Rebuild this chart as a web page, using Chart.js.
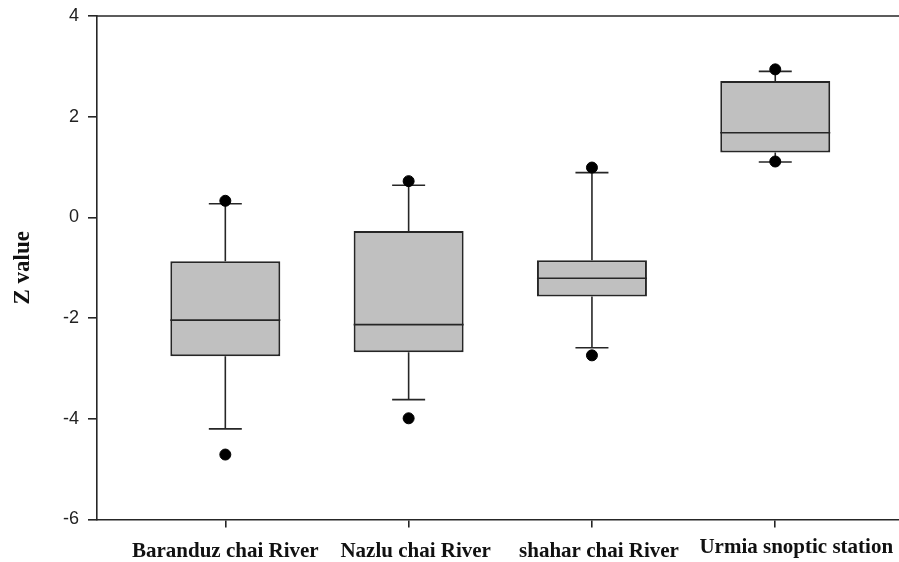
<!DOCTYPE html>
<html>
<head>
<meta charset="utf-8">
<script src="https://cdn.jsdelivr.net/npm/chart.js@4.4.1/dist/chart.umd.min.js"></script>
<style>
  html, body { margin: 0; padding: 0; background: #ffffff; }
  #wrap { width: 899px; height: 562px; position: relative; }
</style>
</head>
<body>
<div id="wrap"><canvas id="c" width="899" height="562"></canvas></div>
<script>
// ---- data ----
const categories = ['Baranduz chai River', 'Nazlu chai River', 'shahar chai River', 'Urmia snoptic station'];
const q1 = [-2.76, -2.68, -1.57, 1.29];
const median = [-2.04, -2.13, -1.21, 1.68];
const q3 = [-0.87, -0.27, -0.85, 2.71];
const whiskerLow = [-4.20, -3.62, -2.59, 1.10];
const whiskerHigh = [0.27, 0.64, 0.89, 2.90];
const outlierLow = [-4.71, -3.99, -2.74, 1.11];
const outlierHigh = [0.33, 0.72, 0.99, 2.94];
const yTicks = [-6, -4, -2, 0, 2, 4];

// ---- style constants ----
const BOX_HALF = 0.3;   // half box width in category units
const CAP_HALF = 0.09;  // half whisker-cap width in category units
const INK = '#262626';
// per-label nudges (px) of the category labels, as placed in the original figure
const LABEL_DX = [0, 7, 7, 21];
const LABEL_BASELINE = [37, 37, 37, 33];
const LABEL_FONT = "bold 21px 'Liberation Serif', 'Times New Roman', serif";

const pos = categories.map((_, i) => i + 1);

const boxes = pos.map((x, i) => ({ x: x, y: [q1[i], q3[i]] }));

const whiskers = [];
pos.forEach((x, i) => {
  whiskers.push({ x: x, y: q3[i] }, { x: x, y: whiskerHigh[i] }, { x: x, y: null });
  whiskers.push({ x: x, y: q1[i] }, { x: x, y: whiskerLow[i] }, { x: x, y: null });
});

const caps = [];
pos.forEach((x, i) => {
  caps.push({ x: x - CAP_HALF, y: whiskerHigh[i] }, { x: x + CAP_HALF, y: whiskerHigh[i] }, { x: x, y: null });
  caps.push({ x: x - CAP_HALF, y: whiskerLow[i] }, { x: x + CAP_HALF, y: whiskerLow[i] }, { x: x, y: null });
});

const medians = [];
pos.forEach((x, i) => {
  medians.push({ x: x - BOX_HALF, y: median[i] }, { x: x + BOX_HALF, y: median[i] }, { x: x, y: null });
});

const outliers = [];
pos.forEach((x, i) => {
  outliers.push({ x: x, y: outlierHigh[i] }, { x: x, y: outlierLow[i] });
});

const frameAndLabels = {
  id: 'frameAndLabels',
  afterDraw(chart) {
    const a = chart.chartArea, ctx = chart.ctx;
    const xs = chart.scales.x;
    ctx.save();
    ctx.strokeStyle = INK;
    ctx.lineWidth = 1.6;
    ctx.beginPath();
    ctx.moveTo(a.left, a.top);
    ctx.lineTo(chart.width, a.top);
    ctx.stroke();
    ctx.fillStyle = '#111';
    ctx.font = LABEL_FONT;
    ctx.textAlign = 'center';
    ctx.textBaseline = 'alphabetic';
    categories.forEach((name, i) => {
      ctx.fillText(name, xs.getPixelForValue(pos[i]) + LABEL_DX[i], a.bottom + LABEL_BASELINE[i]);
    });
    ctx.restore();
  }
};

new Chart(document.getElementById('c'), {
  type: 'bar',
  data: {
    datasets: [
      {
        type: 'bar', data: boxes, order: 3,
        backgroundColor: '#c0c0c0', borderColor: INK, borderWidth: 2, borderSkipped: false,
        categoryPercentage: 0.6, barPercentage: 1.0
      },
      {
        type: 'line', data: whiskers, order: 4, spanGaps: false,
        borderColor: INK, borderWidth: 1.6, pointRadius: 0, fill: false, tension: 0
      },
      {
        type: 'line', data: caps, order: 2, spanGaps: false,
        borderColor: INK, borderWidth: 1.6, pointRadius: 0, fill: false, tension: 0
      },
      {
        type: 'line', data: medians, order: 1, spanGaps: false,
        borderColor: INK, borderWidth: 1.6, pointRadius: 0, fill: false, tension: 0
      },
      {
        type: 'scatter', data: outliers, order: 0, clip: false,
        pointRadius: 5.5, pointBorderWidth: 1, pointBackgroundColor: '#000', pointBorderColor: '#000'
      }
    ]
  },
  options: {
    responsive: false,
    animation: false,
    events: [],
    layout: { autoPadding: false, padding: { top: 16, right: 0, left: 0, bottom: 0 } },
    plugins: { legend: { display: false }, tooltip: { enabled: false } },
    scales: {
      x: {
        type: 'linear',
        min: 0.3, max: 4.675,
        offset: false,
        grid: { display: true, drawOnChartArea: false, offset: false, tickLength: 8, color: INK, lineWidth: 1.6 },
        border: { display: true, color: INK, width: 1.6 },
        afterBuildTicks(scale) { scale.ticks = pos.map(v => ({ value: v })); },
        ticks: { display: false },
        afterFit(scale) { scale.height = 42.5; scale.paddingLeft = 0; scale.paddingRight = 0; }
      },
      y: {
        type: 'linear',
        min: -6, max: 4,
        grid: { display: true, drawOnChartArea: false, tickLength: 9, color: INK, lineWidth: 1.6 },
        border: { display: true, color: INK, width: 1.6 },
        afterBuildTicks(scale) { scale.ticks = yTicks.map(v => ({ value: v })); },
        ticks: {
          padding: 9, color: '#222',
          font: { family: "'Liberation Sans', Arial, sans-serif", size: 18 }
        },
        title: {
          display: true, text: 'Z value', color: '#111',
          font: { family: "'Liberation Serif', 'Times New Roman', serif", size: 23, weight: 'bold' },
          padding: { top: 9, bottom: 0 }
        },
        afterFit(scale) { scale.width = 97; scale.paddingTop = 0; scale.paddingBottom = 0; }
      }
    }
  },
  plugins: [frameAndLabels]
});
</script>
</body>
</html>
